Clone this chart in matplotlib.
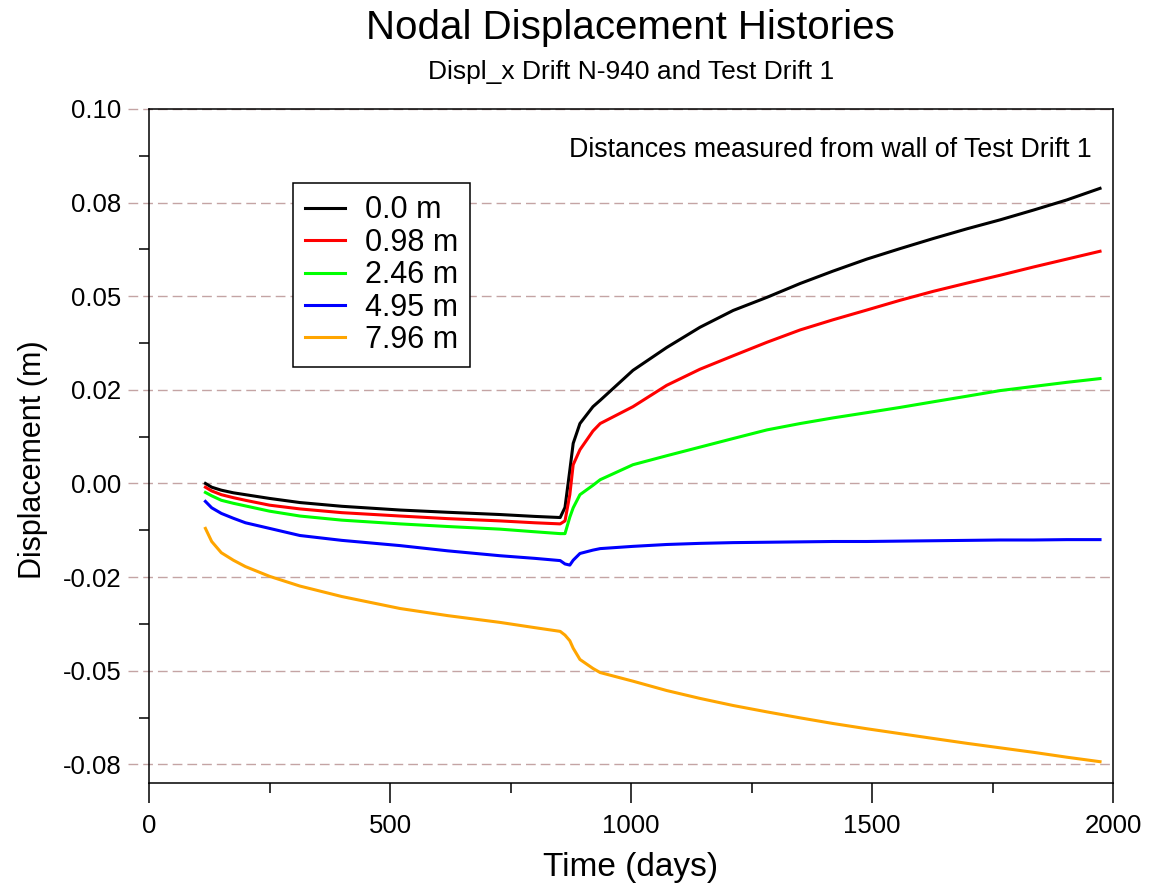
#!/usr/bin/env python3
"""Nodal displacement histories, displ_x along Drift N-940 / Test Drift 1."""

import matplotlib

matplotlib.use("Agg")
import matplotlib.pyplot as plt
from matplotlib.ticker import FixedLocator, MultipleLocator

plt.rcParams["font.family"] = ["Liberation Sans", "DejaVu Sans"]

# time (days), shared by all series
time_days = [117, 130, 150, 175, 200, 250, 313, 400, 521, 620, 728, 800, 853,
             863, 873, 880, 894, 921, 936, 1004, 1074, 1143, 1212, 1282, 1351,
             1419, 1489, 1558, 1627, 1697, 1766, 1835, 1904, 1973]

# displacement (m) at each distance from the wall of Test Drift 1
disp_0_00 = [0.0, -0.0010, -0.0018, -0.0025, -0.0030, -0.0040, -0.0051,
             -0.0061, -0.0071, -0.0077, -0.0083, -0.0088, -0.0091,
             -0.0064, 0.0035, 0.0107, 0.0160, 0.0205, 0.0222, 0.0302, 0.0363,
             0.0417, 0.0462, 0.0497, 0.0534, 0.0567, 0.0599, 0.0627, 0.0654,
             0.0680, 0.0704, 0.0730, 0.0757, 0.0788]
disp_0_98 = [-0.0010, -0.0020, -0.0030, -0.0038, -0.0045, -0.0058, -0.0068,
             -0.0078, -0.0087, -0.0094, -0.0100, -0.0105, -0.0108,
             -0.0100, -0.0030, 0.0050, 0.0090, 0.0140, 0.0160, 0.0205, 0.0262,
             0.0305, 0.0341, 0.0377, 0.0410, 0.0437, 0.0463, 0.0489, 0.0513,
             0.0535, 0.0556, 0.0578, 0.0599, 0.0620]
disp_2_46 = [-0.0024, -0.0033, -0.0045, -0.0053, -0.0060, -0.0074, -0.0087,
             -0.0098, -0.0108, -0.0115, -0.0122, -0.0129, -0.0134,
             -0.0134, -0.0090, -0.0065, -0.0030, -0.0005, 0.0010, 0.0050,
             0.0074, 0.0097, 0.0120, 0.0143, 0.0160, 0.0175, 0.0189, 0.0203,
             0.0218, 0.0233, 0.0248, 0.0259, 0.0270, 0.0280]
disp_4_95 = [-0.0048, -0.0065, -0.0080, -0.0093, -0.0105, -0.0120, -0.0139,
             -0.0152, -0.0166, -0.0180, -0.0193, -0.0200, -0.0206,
             -0.0215, -0.0218, -0.0205, -0.0187, -0.0178, -0.0174, -0.0168,
             -0.0163, -0.0160, -0.0158, -0.0157, -0.0156, -0.0155, -0.0155,
             -0.0154, -0.0153, -0.0152, -0.0151, -0.0151, -0.0150, -0.0150]
disp_7_96 = [-0.0120, -0.0155, -0.0185, -0.0205, -0.0222, -0.0248, -0.0274,
             -0.0302, -0.0334, -0.0353, -0.0371, -0.0385, -0.0395,
             -0.0405, -0.0420, -0.0440, -0.0470, -0.0494, -0.0505, -0.0528,
             -0.0553, -0.0574, -0.0593, -0.0610, -0.0626, -0.0641, -0.0655,
             -0.0668, -0.0681, -0.0694, -0.0706, -0.0718, -0.0731, -0.0743]

series = [
    ("0.0 m", disp_0_00, "black"),
    ("0.98 m", disp_0_98, "red"),
    ("2.46 m", disp_2_46, "#00ff00"),
    ("4.95 m", disp_4_95, "blue"),
    ("7.96 m", disp_7_96, "orange"),
]

y_ticks = [-0.075, -0.05, -0.025, 0.0, 0.025, 0.05, 0.075, 0.1]
y_tick_labels = ["-0.08", "-0.05", "-0.02", "0.00", "0.02", "0.05", "0.08",
                 "0.10"]

fig = plt.figure(figsize=(11.49, 8.88), dpi=100)
ax = fig.add_axes([0.1297, 0.1182, 0.8390, 0.7591])

# dashed reference lines, also serving as major y ticks
grid_color = "#c4a4a4"
for yv in y_ticks:
    ax.axhline(yv, xmin=-0.022, xmax=1.0, color=grid_color, lw=1.0,
               ls=(0, (7, 3.6)), clip_on=False, zorder=1)

for label, values, color in series:
    ax.plot(time_days, values, color=color, lw=2.2, label=label, zorder=3)

ax.set_xlim(0, 2000)
ax.set_ylim(-0.08, 0.1)

ax.xaxis.set_major_locator(MultipleLocator(500))
ax.xaxis.set_minor_locator(MultipleLocator(250))
ax.yaxis.set_major_locator(FixedLocator(y_ticks))
ax.set_yticklabels(y_tick_labels)
ax.yaxis.set_minor_locator(FixedLocator(
    [-0.0625, -0.0375, -0.0125, 0.0125, 0.0375, 0.0625, 0.0875]))

ax.tick_params(axis="x", which="major", direction="out", length=14.4,
               width=1.1, pad=8, labelsize=18.5)
ax.tick_params(axis="x", which="minor", direction="out", length=7.2,
               width=1.1)
ax.tick_params(axis="y", which="major", length=0, pad=20, labelsize=18.5)
ax.tick_params(axis="y", which="minor", direction="out", length=7.2,
               width=1.1)
for spine in ax.spines.values():
    spine.set_linewidth(1.1)

fig.text(0.549, 0.956, "Nodal Displacement Histories", ha="center",
         va="baseline", fontsize=29)
fig.text(0.549, 0.911, "Displ_x Drift N-940 and Test Drift 1", ha="center",
         va="baseline", fontsize=19)
fig.text(0.549, 0.013, "Time (days)", ha="center", va="baseline",
         fontsize=24)
fig.text(0.029, 0.482, "Displacement (m)", ha="center", va="center",
         rotation=90, fontsize=22)

ax.text(0.978, 0.929, "Distances measured from wall of Test Drift 1",
        transform=ax.transAxes, ha="right", va="baseline", fontsize=19.3)

leg = ax.legend(loc="upper left", bbox_to_anchor=(0.1494, 0.890),
                borderaxespad=0, fontsize=22, frameon=True, fancybox=False,
                handlelength=1.3, handletextpad=0.65, labelspacing=0.08,
                borderpad=0.4)
leg.get_frame().set_edgecolor("black")
leg.get_frame().set_linewidth(1.1)
leg.get_frame().set_alpha(1.0)
for line in leg.get_lines():
    line.set_linewidth(2.2)

fig.savefig("out.png", dpi=100)
